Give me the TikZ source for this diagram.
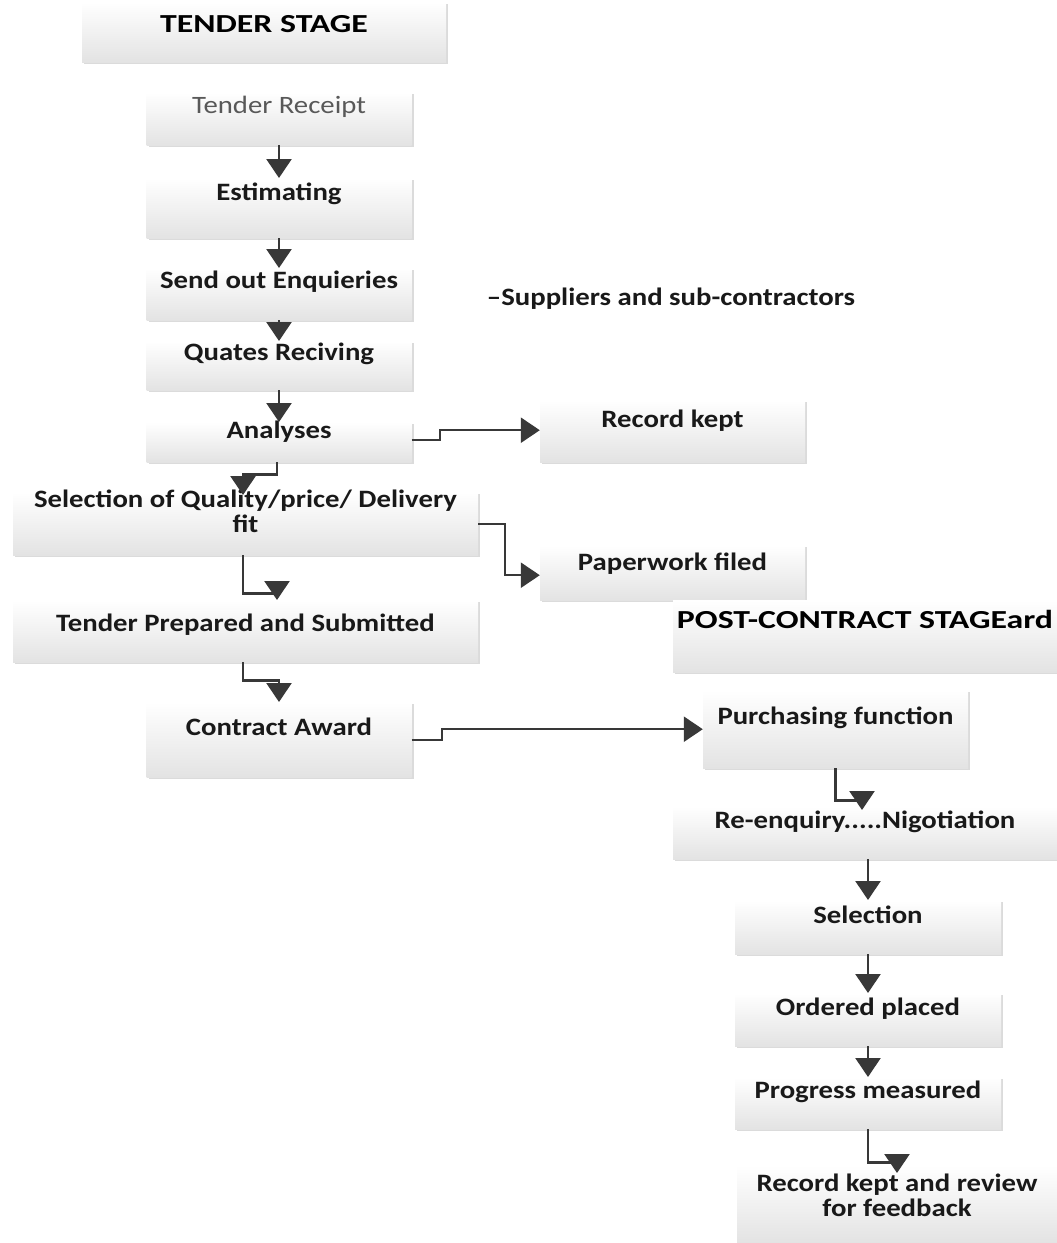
\documentclass[tikz,border=0pt]{standalone}
\usepackage{fontspec}
\setmainfont{Carlito}[FakeStretch=1.15]
\newfontfamily\headfont{Carlito}[FakeStretch=1.3]
\usepackage{tikz}
\usetikzlibrary{arrows.meta, shadows}

\begin{document}
\begin{tikzpicture}[x=1pt, y=-1pt]
		\tikzset{box/.style = {shape=rectangle, anchor=north, inner sep=0pt, draw=none,
				top color=white, bottom color=black!11, text=black!90, align=center,
				font=\fontsize{25}{25}\selectfont\bfseries,
				drop shadow={shadow xshift=2pt, shadow yshift=-2pt, opacity=.28}}}
		\tikzset{pad/.style 2 args = {text height=#1pt, text depth=#2pt}}
		\tikzset{head/.style = {box, text=black, font=\headfont\fontsize{26}{26}\selectfont\bfseries}}
		\tikzset{flow/.style = {draw=black!78, line width=2.4pt, -{Triangle[width=25pt,length=19pt]}}}

		\path[fill=white] (0,0) rectangle (1057,1243);
		\useasboundingbox (0,0) rectangle (1057,1243);

		\node[head, minimum width=364pt, pad={30}{30}] (tender) at (264,2) {TENDER STAGE};
		\node[box, minimum width=265pt, pad={21}{32}, text=black!65, font=\fontsize{25}{25}\selectfont] (receipt) at (279,92) {Tender Receipt};
		\node[box, minimum width=265pt, pad={22}{38}] (estim) at (279,178) {Estimating};
		\node[box, minimum width=265pt, pad={20}{32}] (enq) at (279,268) {Send out Enquieries};
		\node[box, minimum width=265pt, pad={19}{30}] (quotes) at (279,341) {Quates Reciving};
		\node[box, minimum width=265pt, pad={16}{24}] (analy) at (279,422) {Analyses};
		\node[box, minimum width=465pt, pad={40}{23}] (select) at (245.5,492) {Selection of Quality/price/ Delivery\\fit};
		\node[box, minimum width=465pt, pad={31}{31}] (prep) at (245.5,600) {Tender Prepared and Submitted};
		\node[box, minimum width=265pt, pad={33}{42}] (award) at (279,702) {Contract Award};

		\node[font=\fontsize{25}{25}\selectfont\bfseries, text=black!90, anchor=base, inner sep=0pt] (supp) at (671,305) {--Suppliers and sub-contractors};
		\node[box, minimum width=265pt, pad={27}{35}] (record) at (672.5,400) {Record kept};
		\node[box, minimum width=265pt, pad={25}{30}] (paper) at (672.5,545) {Paperwork filed};

		\node[head, minimum width=384pt, pad={28}{44}] (post) at (865,600) {POST-CONTRACT STAGEard};
		\node[box, minimum width=265pt, pad={34}{44}] (purch) at (835.5,690) {Purchasing function};
		\node[box, minimum width=384pt, pad={22}{31}] (reenq) at (865,806) {Re-enquiry.....Nigotiation};
		\node[box, minimum width=266pt, pad={23}{31}] (sel2) at (868,900) {Selection};
		\node[box, minimum width=266pt, pad={22}{31}] (order) at (868,993) {Ordered placed};
		\node[box, minimum width=266pt, pad={21}{31}] (prog) at (868,1077) {Progress measured};
		\node[box, minimum width=320pt, pad={51}{27}] (review) at (897,1165) {Record kept and review\\for feedback};

		\draw[flow] (receipt.south) to (estim.north);
		\draw[flow] (estim.south) to (enq.north);
		\draw[flow] (enq.south) to (quotes.north);
		\draw[flow] (quotes.south) to (analy.north);
		\draw[flow] ([xshift=-2pt]analy.south) -- ++(0,12) -| ([xshift=-2.5pt,yshift=-3pt]select.north);
		\draw[flow] ([xshift=-2.5pt]select.south) -- ++(0,38) -| ([xshift=31.5pt]prep.north);
		\draw[flow] ([xshift=-2.5pt]prep.south) -- ++(0,18) -| (award.north);
		\draw[flow] ([yshift=2pt]analy.east) -- ++(28,0) |- ([yshift=1pt]record.west);
		\draw[flow] (select.east) -- ++(27,0) |- ([yshift=-2.5pt]paper.west);
		\draw[flow] (award.east) -- ++(30,0) |- (purch.west);

		\draw[flow] (purch.south) -- ++(0,32) -| ([xshift=-3pt,yshift=-4pt]reenq.north);
		\draw[flow] (reenq.south -| sel2.north) to (sel2.north);
		\draw[flow] (sel2.south) to (order.north);
		\draw[flow] (order.south) to (prog.north);
		\draw[flow] (prog.south) -- ++(0,33) -| ([yshift=-8pt]review.north);

	\end{tikzpicture}
\end{document}
